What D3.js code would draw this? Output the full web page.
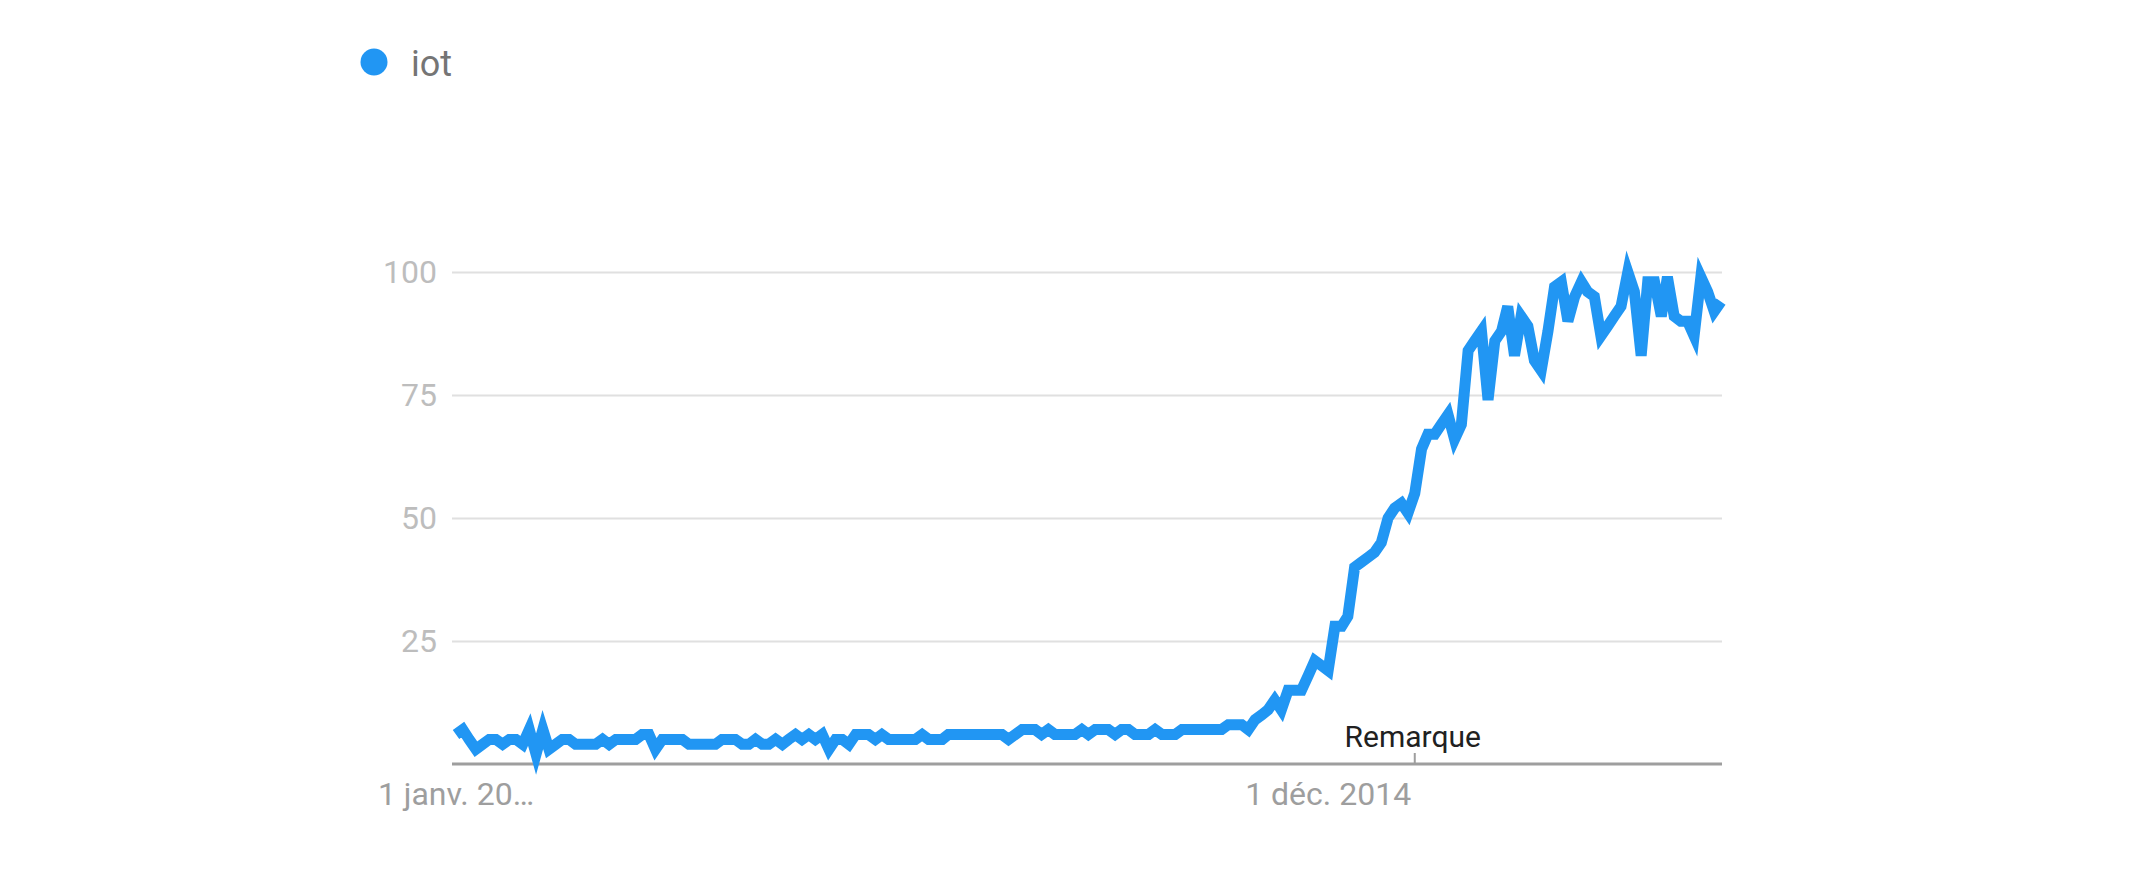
<!DOCTYPE html>
<html>
<head>
<meta charset="utf-8">
<script src="https://cdn.jsdelivr.net/npm/d3@7"></script>
<style>
    html, body { margin: 0; padding: 0; background: #fff; }
    svg { display: block; font-family: Roboto, "Noto Sans", sans-serif; }
</style>
</head>
<body>
<div id="chart"></div>
<script>
// series name and monthly range (Jan 2004 -> Nov 2019)
const seriesName = "iot";
const firstMonth = new Date(2004, 0, 1);
const lastMonth = new Date(2019, 10, 1);

// interest over time, one value per month
const values = [
    6, 7, 5, 3, 4, 5, 5, 4, 5, 5,
    4, 7, 2, 7, 3, 4, 5, 5, 4, 4,
    4, 4, 5, 4, 5, 5, 5, 5, 6, 6,
    3, 5, 5, 5, 5, 4, 4, 4, 4, 4,
    5, 5, 5, 4, 4, 5, 4, 4, 5, 4,
    5, 6, 5, 6, 5, 6, 3, 5, 5, 4,
    6, 6, 6, 5, 6, 5, 5, 5, 5, 5,
    6, 5, 5, 5, 6, 6, 6, 6, 6, 6,
    6, 6, 6, 5, 6, 7, 7, 7, 6, 7,
    6, 6, 6, 6, 7, 6, 7, 7, 7, 6,
    7, 7, 6, 6, 6, 7, 6, 6, 6, 7,
    7, 7, 7, 7, 7, 7, 8, 8, 8, 7,
    9, 10, 11, 13, 11, 15, 15, 15, 18, 21,
    20, 19, 28, 28, 30, 40, 41, 42, 43, 45,
    50, 52, 53, 51, 55, 64, 67, 67, 69, 71,
    66, 69, 84, 86, 88, 74, 86, 88, 93, 83,
    91, 89, 82, 80, 88, 97, 98, 90, 95, 98,
    96, 95, 87, 89, 91, 93, 100, 96, 83, 98,
    98, 91, 99, 91, 90, 90, 87, 99, 96, 92, 94
];

const yTicks = [25, 50, 75, 100];
const xTickDates = [new Date(2004, 0, 1), new Date(2014, 11, 1)];
const xTickLabels = ["1 janv. 20\u2026", "1 d\u00e9c. 2014"];
const noteDate = new Date(2016, 0, 1);
const noteLabel = "Remarque";

const width = 2131, height = 896;
const plotLeft = 452, plotRight = 1722, plotTop = 272, plotBottom = 764;

const months = d3.timeMonth.range(firstMonth, d3.timeMonth.offset(lastMonth, 1));
const data = months.map((d, i) => ({ date: d, value: values[i] }));

const svg = d3.select("#chart")
    .append("svg")
    .attr("width", width)
    .attr("height", height);

const x = d3.scaleTime()
    .domain([firstMonth, lastMonth])
    .range([plotLeft + 4, plotRight - 1]);

const y = d3.scaleLinear()
    .domain([0, 100])
    .range([plotBottom, plotTop]);

// gridlines + y labels
const yAxis = svg.append("g")
    .attr("transform", "translate(" + plotLeft + ",0)")
    .call(d3.axisLeft(y).tickValues(yTicks).tickSize(-(plotRight - plotLeft)).tickPadding(15));
yAxis.select(".domain").remove();
yAxis.selectAll("line").attr("stroke", "#e0e0e0").attr("stroke-width", 2);
yAxis.selectAll("text")
    .attr("fill", "#bdbdbd")
    .style("font-size", "32px")
    .style("font-family", "Roboto");

// baseline
svg.append("line")
    .attr("x1", plotLeft).attr("x2", plotRight)
    .attr("y1", plotBottom).attr("y2", plotBottom)
    .attr("stroke", "#9e9e9e")
    .attr("stroke-width", 3);

// x labels
svg.selectAll(".xlab")
    .data(xTickDates)
    .enter()
    .append("text")
    .attr("class", "xlab")
    .attr("x", d => x(d))
    .attr("y", 805)
    .attr("text-anchor", "middle")
    .attr("fill", "#9e9e9e")
    .style("font-size", "32px")
    .text((d, i) => xTickLabels[i]);

// note marker
svg.append("line")
    .attr("x1", x(noteDate)).attr("x2", x(noteDate))
    .attr("y1", plotBottom - 11).attr("y2", plotBottom)
    .attr("stroke", "#9e9e9e")
    .attr("stroke-width", 2);
svg.append("text")
    .attr("x", x(noteDate) - 2)
    .attr("y", 747)
    .attr("text-anchor", "middle")
    .attr("fill", "#212121")
    .style("font-size", "30px")
    .text(noteLabel);

// the line
const line = d3.line()
    .x(d => x(d.date))
    .y(d => y(d.value));

svg.append("path")
    .datum(data)
    .attr("d", line)
    .attr("fill", "none")
    .attr("stroke", "#2196f3")
    .attr("stroke-width", 11);

// legend
svg.append("circle")
    .attr("cx", 374).attr("cy", 62).attr("r", 13.5)
    .attr("fill", "#2196f3");
svg.append("text")
    .attr("x", 411).attr("y", 76)
    .attr("fill", "#757575")
    .style("font-size", "36px")
    .text(seriesName);
</script>
</body>
</html>
